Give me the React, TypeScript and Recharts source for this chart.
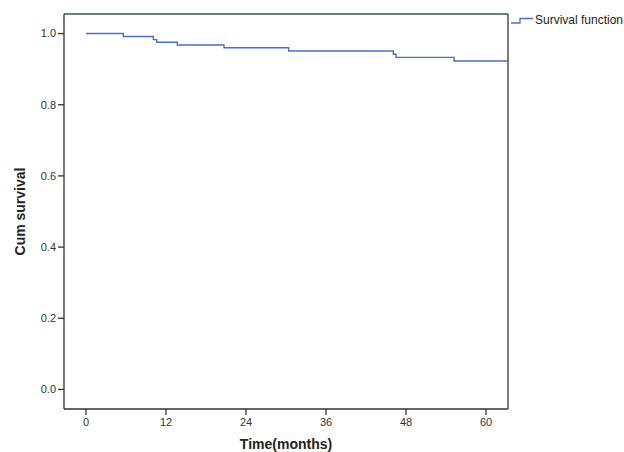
import React from 'react';
import {
  LineChart,
  Line,
  XAxis,
  YAxis,
  Label,
  ReferenceLine,
} from 'recharts';

// Kaplan-Meier estimate (months, cumulative survival)
const times = [0, 5.6, 10.1, 10.6, 13.7, 20.7, 30.4, 46.1, 46.5, 55.2, 63.3];
const survival = [1.0, 0.9916, 0.983, 0.9758, 0.968, 0.96, 0.951, 0.942, 0.933, 0.923, 0.923];
const xTicks = [0, 12, 24, 36, 48, 60];
const yTicks = [0, 0.2, 0.4, 0.6, 0.8, 1.0];

const X_DOMAIN: [number, number] = [-3.3, 63.3];
const Y_DOMAIN: [number, number] = [-0.055, 1.055];

const data = times.map((t, i) => ({ t, s: survival[i] }));

const FONT = '"Liberation Sans", Arial, sans-serif';
const LINE = '#4a6ec6';

const LegendBox = () => (
  <div
    style={{
      position: 'absolute',
      left: 511,
      top: 13,
      display: 'flex',
      alignItems: 'center',
      fontFamily: FONT,
      fontSize: 12,
      color: '#222',
      whiteSpace: 'nowrap',
    }}
  >
    <svg width={23} height={10} style={{ marginRight: 1 }}>
      <path d="M0 8 H9 V3.5 H22" stroke={LINE} strokeWidth={1.3} fill="none" />
    </svg>
    <span>Survival function</span>
  </div>
);

const YLabel = (props: any) => {
  const vb = props.viewBox || { x: 0, y: 14, width: 64, height: 395 };
  const cx = vb.x + 20;
  const cy = vb.y + vb.height / 2;
  return (
    <text
      x={cx}
      y={cy}
      transform={`rotate(-90 ${cx} ${cy})`}
      textAnchor="middle"
      dominantBaseline="central"
      fontFamily={FONT}
      fontSize={14}
      fontWeight="bold"
      fill="#222"
    >
      Cum survival
    </text>
  );
};

const App: React.FC = () => {
  return (
    <div style={{ position: 'absolute', left: 0, top: 0, width: 624, height: 452, background: '#fff' }}>
      <LineChart
        width={624}
        height={452}
        data={data}
        margin={{ top: 14, right: 116, left: 0, bottom: 0 }}
      >
        <XAxis
          dataKey="t"
          type="number"
          domain={X_DOMAIN}
          ticks={xTicks}
          allowDataOverflow
          height={43}
          tickSize={6}
          tickMargin={3}
          stroke="#333"
          strokeWidth={1.3}
          tick={{ fontSize: 11, fill: '#333', fontFamily: FONT }}
        >
          <Label
            value="Time(months)"
            position="insideBottom"
            offset={3}
            style={{ fontSize: 14, fontWeight: 'bold', fill: '#222', fontFamily: FONT }}
          />
        </XAxis>
        <YAxis
          type="number"
          domain={Y_DOMAIN}
          ticks={yTicks}
          allowDataOverflow
          width={64}
          tickSize={6}
          tickMargin={2}
          stroke="#333"
          strokeWidth={1.3}
          tickFormatter={(v: number) => v.toFixed(1)}
          tick={{ fontSize: 11, fill: '#333', fontFamily: FONT }}
        >
          <Label content={<YLabel />} />
        </YAxis>
        <ReferenceLine y={Y_DOMAIN[1]} stroke="#2f5a5a" strokeWidth={1.5} ifOverflow="extendDomain" />
        <ReferenceLine x={X_DOMAIN[1]} stroke="#333" strokeWidth={1.3} ifOverflow="extendDomain" />
        <Line
          type="stepAfter"
          dataKey="s"
          stroke={LINE}
          strokeWidth={1.4}
          dot={false}
          activeDot={false}
          isAnimationActive={false}
        />
      </LineChart>
      <LegendBox />
    </div>
  );
};

export default App;
